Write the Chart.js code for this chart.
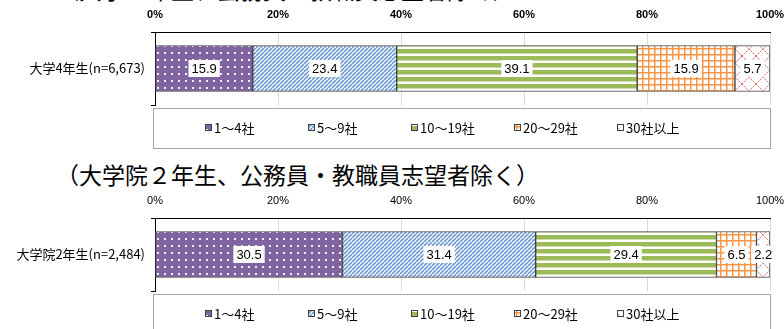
<!DOCTYPE html>
<html lang="ja">
<head>
<meta charset="utf-8">
<script src="https://cdn.jsdelivr.net/npm/chart.js@4.4.1/dist/chart.umd.min.js"></script>
<style>
  html, body { margin: 0; padding: 0; background: #fff; overflow: hidden; }
  #wrap { position: relative; width: 784px; height: 329px; overflow: hidden; }
  .title { position: absolute; left: 56px; font-family: "Noto Sans CJK JP", sans-serif; font-size: 23px; line-height: 1; color: #000; white-space: nowrap; }
  canvas { position: absolute; left: 0; }
</style>
</head>
<body>
<div id="wrap">
  <div class="title" style="top:-22px">（大学４年生、公務員・教職員志望者除く）</div>
  <canvas id="chart1" width="784" height="150" style="top:0"></canvas>
  <div class="title" style="top:163px">（大学院２年生、公務員・教職員志望者除く）</div>
  <canvas id="chart2" width="784" height="150" style="top:186px"></canvas>
</div>
<script>
// number of companies applied to
const categories = ["1～4社", "5～9社", "10～19社", "20～29社", "30社以上"];

// shares (%) per group
const undergradLabel = ["大学4年生(n=6,673)"];
const undergradValues = [15.9, 23.4, 39.1, 15.9, 5.7];

const gradLabel = ["大学院2年生(n=2,484)"];
const gradValues = [30.5, 31.4, 29.4, 6.5, 2.2];

const xTickLabels = ["0%", "20%", "40%", "60%", "80%", "100%"];

//small tiles used as bar fills
function makePattern(w, h, draw) {
  const c = document.createElement("canvas");
  c.width = w;
  c.height = h;
  const g = c.getContext("2d");
  draw(g, w, h);
  return g.createPattern(c, "repeat");
}

const patterns = [
  // purple with white dots
  makePattern(7, 7, (g, w, h) => {
    g.fillStyle = "#8064A2";
    g.fillRect(0, 0, w, h);
    g.fillStyle = "#F2EFF7";
    g.fillRect(3, 3, 2, 2);
  }),
  // light blue upward diagonal
  makePattern(4, 4, (g, w, h) => {
    g.fillStyle = "#fff";
    g.fillRect(0, 0, w, h);
    g.strokeStyle = "#6F9BD3";
    g.lineWidth = 1.6;
    [-4, 0, 4].forEach(k => {
      g.beginPath();
      g.moveTo(k, 4);
      g.lineTo(k + 4, 0);
      g.stroke();
    });
  }),
  // green horizontal stripes
  makePattern(4, 7, (g, w, h) => {
    g.fillStyle = "#fff";
    g.fillRect(0, 0, w, h);
    g.fillStyle = "#9BBB59";
    g.fillRect(0, 0, w, 4.5);
  }),
  // orange small grid
  makePattern(6, 6, (g, w, h) => {
    g.fillStyle = "#fff";
    g.fillRect(0, 0, w, h);
    g.fillStyle = "#F79646";
    g.fillRect(0, 0, w, 1.5);
    g.fillRect(0, 0, 1.5, h);
  }),
  // red dotted trellis
  makePattern(14, 14, (g, w, h) => {
    g.fillStyle = "#fff";
    g.fillRect(0, 0, w, h);
    g.strokeStyle = "#DC6F6B";
    g.lineWidth = 1;
    g.setLineDash([2, 1]);
    g.beginPath();
    g.moveTo(0, 0); g.lineTo(w, h);
    g.moveTo(w, 0); g.lineTo(0, h);
    g.stroke();
  })
];

//white boxed value labels in the middle of each segment
const valueLabels = {
  id: "valueLabels",
  afterDatasetsDraw(chart) {
    const ctx = chart.ctx;
    ctx.save();
    ctx.font = '13px "Liberation Sans", Arial, sans-serif';
    ctx.textAlign = "center";
    ctx.textBaseline = "middle";
    chart.data.datasets.forEach((ds, i) => {
      chart.getDatasetMeta(i).data.forEach((bar, j) => {
        const text = ds.data[j].toFixed(1);
        const cx = (bar.x + bar.base) / 2;
        const cy = bar.y;
        const w = ctx.measureText(text).width + 6;
        ctx.fillStyle = "#fff";
        ctx.fillRect(cx - w / 2, cy - 8.5, w, 17);
        ctx.fillStyle = "#000";
        ctx.fillText(text, cx, cy + 0.5);
      });
    });
    ctx.restore();
  }
};

//legend in a framed box under the plot, fixed slots like the spreadsheet one
const boxLegend = {
  id: "boxLegend",
  afterDraw(chart) {
    const { ctx, chartArea } = chart;
    const top = chartArea.bottom + 3;
    const left = chartArea.left - 2;
    const right = chartArea.right;
    const boxH = 40;
    ctx.save();
    ctx.strokeStyle = "#A6A6A6";
    ctx.lineWidth = 1;
    ctx.strokeRect(left + 0.5, top + 0.5, right - left, boxH);

    const slot = 103;
    const n = chart.data.datasets.length;
    const start = (left + right) / 2 - (slot * n) / 2 + 1;
    const y = top + 20;
    ctx.font = '13px "Noto Sans CJK JP", sans-serif';
    ctx.textBaseline = "middle";
    chart.data.datasets.forEach((ds, i) => {
      const x = Math.round(start + i * slot);
      ctx.fillStyle = ds.backgroundColor;
      ctx.fillRect(x, y - 4, 7, 7);
      ctx.strokeStyle = "#404040";
      ctx.strokeRect(x + 0.5, y - 3.5, 6, 6);
      ctx.fillStyle = "#000";
      ctx.fillText(ds.label, x + 9, y);
    });
    ctx.restore();
  }
};

function buildChart(canvasId, labels, values, tickFont) {
  const ctx = document.getElementById(canvasId).getContext("2d");
  return new Chart(ctx, {
    type: "bar",
    data: {
      labels: labels,
      datasets: categories.map((name, i) => ({
        label: name,
        data: [values[i]],
        backgroundColor: patterns[i],
        borderColor: "#404040",
        borderWidth: 1,
        borderSkipped: false,
        barThickness: 46
      }))
    },
    options: {
      indexAxis: "y",
      responsive: false,
      animation: false,
      layout: { padding: { left: 0, right: 0, top: 0, bottom: 45 } },
      plugins: {
        legend: { display: false },
        tooltip: { enabled: false }
      },
      scales: {
        x: {
          type: "linear",
          position: "top",
          stacked: true,
          min: 0,
          max: 100,
          afterFit: s => {
            s.height = 32;
            s.paddingLeft = 0;
            s.paddingRight = 14;
          },
          ticks: {
            stepSize: 20,
            padding: 10,
            color: "#000",
            font: tickFont,
            callback: (v, i) => xTickLabels[i]
          },
          grid: { color: "#D9D9D9", drawTicks: false },
          border: { color: "#000" }
        },
        y: {
          stacked: true,
          afterFit: s => { s.width = 155; },
          ticks: {
            padding: 6,
            color: "#000",
            font: { family: '"Noto Sans CJK JP", sans-serif', size: 13 }
          },
          grid: { drawOnChartArea: false, drawTicks: true, tickLength: 4, color: "#000" },
          border: { color: "#000" }
        }
      }
    },
    plugins: [valueLabels, boxLegend]
  });
}

buildChart("chart1", undergradLabel, undergradValues,
  { family: '"Liberation Sans", Arial, sans-serif', size: 11, weight: "bold" });
buildChart("chart2", gradLabel, gradValues,
  { family: '"Liberation Sans Narrow", "Liberation Sans", sans-serif', size: 11 });
</script>
</body>
</html>
